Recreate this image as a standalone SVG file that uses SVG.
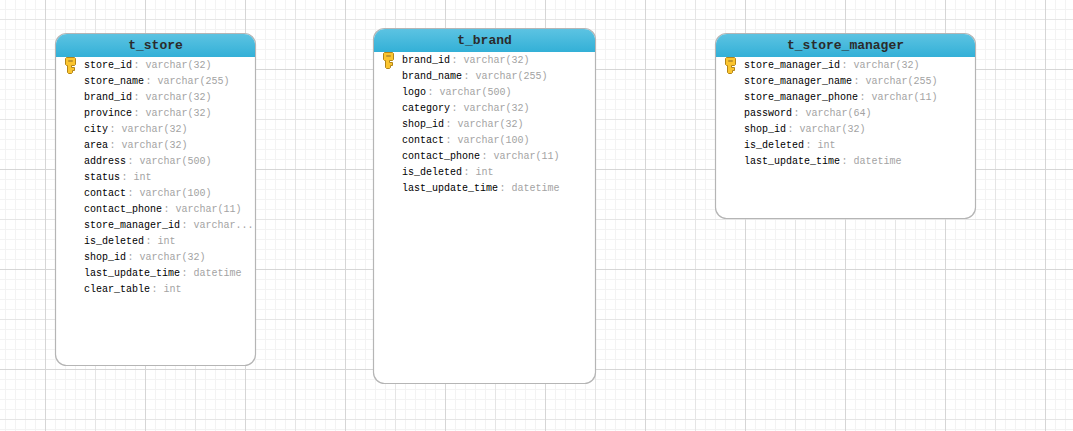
<svg xmlns="http://www.w3.org/2000/svg" width="1073" height="431" viewBox="0 0 1073 431">
<style>
.box{fill:#fff;stroke:#b5b5b5;stroke-width:1.2}
.title{font:bold 13px "Liberation Mono","DejaVu Sans Mono",monospace;fill:#2b2b2b;text-anchor:middle}
.row{font:10px "Liberation Mono","DejaVu Sans Mono",monospace;fill:#000}
.row tspan{fill:#a3a3a3}
</style>
<defs>
<pattern id="minor" width="10" height="10" patternUnits="userSpaceOnUse" x="5" y="9"><path d="M.5 0V10M0 .5H10" stroke="#f3f3f3" fill="none"/></pattern>
<pattern id="major" width="50" height="50" patternUnits="userSpaceOnUse" x="45" y="19"><path d="M.5 0V50M0 .5H50" stroke="#e5e5e5" fill="none"/></pattern>
<pattern id="major2" width="100" height="100" patternUnits="userSpaceOnUse" x="45" y="69"><path d="M.5 0V100M0 .5H100" stroke="#d6d6d6" fill="none"/></pattern>
<linearGradient id="hd" x1="0" y1="0" x2="0" y2="1"><stop offset="0" stop-color="#5cc3e2"/><stop offset="1" stop-color="#33b0d7"/></linearGradient>
<g id="key">
<path d="M2.500 0.500H10.500L11.500 1.500V7.500L10.500 8.500H7.500V10.500H10.500V13.500H8.500V15.500L7.500 16.500H4.500L3.500 15.500V8.500H2.500L1.500 7.500V1.500Z" fill="#fbc52f" stroke="#b38518"/>
<path d="M4.500 3.500H8.500V4.500H4.500Z" fill="#fff6c4" stroke="#b38518" stroke-width=".8"/>
</g>
</defs>
<rect width="1073" height="431" fill="#fff"/>
<rect width="1073" height="431" fill="url(#minor)"/>
<rect width="1073" height="431" fill="url(#major)"/>
<rect width="1073" height="431" fill="url(#major2)"/>
<g id="connectors"/>
<g id="t_store">
<rect class="box" x="55.500" y="33.500" width="200" height="332" rx="11"/>
<path d="M56 57V45A11 11 0 0 1 67 34H244A11 11 0 0 1 255 45V57Z" fill="url(#hd)"/>
<text class="title" x="155.500" y="49">t_store</text>
<use href="#key" x="64" y="57"/>
<text class="row" x="84" y="68">store_id<tspan dx="1.5">: varchar(32)</tspan></text>
<text class="row" x="84" y="84">store_name<tspan dx="1.5">: varchar(255)</tspan></text>
<text class="row" x="84" y="100">brand_id<tspan dx="1.5">: varchar(32)</tspan></text>
<text class="row" x="84" y="116">province<tspan dx="1.5">: varchar(32)</tspan></text>
<text class="row" x="84" y="132">city<tspan dx="1.5">: varchar(32)</tspan></text>
<text class="row" x="84" y="148">area<tspan dx="1.5">: varchar(32)</tspan></text>
<text class="row" x="84" y="164">address<tspan dx="1.5">: varchar(500)</tspan></text>
<text class="row" x="84" y="180">status<tspan dx="1.5">: int</tspan></text>
<text class="row" x="84" y="196">contact<tspan dx="1.5">: varchar(100)</tspan></text>
<text class="row" x="84" y="212">contact_phone<tspan dx="1.5">: varchar(11)</tspan></text>
<text class="row" x="84" y="228">store_manager_id<tspan dx="1.5">: varchar...</tspan></text>
<text class="row" x="84" y="244">is_deleted<tspan dx="1.5">: int</tspan></text>
<text class="row" x="84" y="260">shop_id<tspan dx="1.5">: varchar(32)</tspan></text>
<text class="row" x="84" y="276">last_update_time<tspan dx="1.5">: datetime</tspan></text>
<text class="row" x="84" y="292">clear_table<tspan dx="1.5">: int</tspan></text>
</g>
<g id="t_brand">
<rect class="box" x="373.500" y="28.500" width="222" height="355" rx="11"/>
<path d="M374 52V40A11 11 0 0 1 385 29H584A11 11 0 0 1 595 40V52Z" fill="url(#hd)"/>
<text class="title" x="484.500" y="44">t_brand</text>
<use href="#key" x="382" y="52"/>
<text class="row" x="402" y="63">brand_id<tspan dx="1.5">: varchar(32)</tspan></text>
<text class="row" x="402" y="79">brand_name<tspan dx="1.5">: varchar(255)</tspan></text>
<text class="row" x="402" y="95">logo<tspan dx="1.5">: varchar(500)</tspan></text>
<text class="row" x="402" y="111">category<tspan dx="1.5">: varchar(32)</tspan></text>
<text class="row" x="402" y="127">shop_id<tspan dx="1.5">: varchar(32)</tspan></text>
<text class="row" x="402" y="143">contact<tspan dx="1.5">: varchar(100)</tspan></text>
<text class="row" x="402" y="159">contact_phone<tspan dx="1.5">: varchar(11)</tspan></text>
<text class="row" x="402" y="175">is_deleted<tspan dx="1.5">: int</tspan></text>
<text class="row" x="402" y="191">last_update_time<tspan dx="1.5">: datetime</tspan></text>
</g>
<g id="t_store_manager">
<rect class="box" x="715.500" y="33.500" width="260" height="185" rx="11"/>
<path d="M716 57V45A11 11 0 0 1 727 34H964A11 11 0 0 1 975 45V57Z" fill="url(#hd)"/>
<text class="title" x="845.500" y="49">t_store_manager</text>
<use href="#key" x="724" y="57"/>
<text class="row" x="744" y="68">store_manager_id<tspan dx="1.5">: varchar(32)</tspan></text>
<text class="row" x="744" y="84">store_manager_name<tspan dx="1.5">: varchar(255)</tspan></text>
<text class="row" x="744" y="100">store_manager_phone<tspan dx="1.5">: varchar(11)</tspan></text>
<text class="row" x="744" y="116">password<tspan dx="1.5">: varchar(64)</tspan></text>
<text class="row" x="744" y="132">shop_id<tspan dx="1.5">: varchar(32)</tspan></text>
<text class="row" x="744" y="148">is_deleted<tspan dx="1.5">: int</tspan></text>
<text class="row" x="744" y="164">last_update_time<tspan dx="1.5">: datetime</tspan></text>
</g>
</svg>
